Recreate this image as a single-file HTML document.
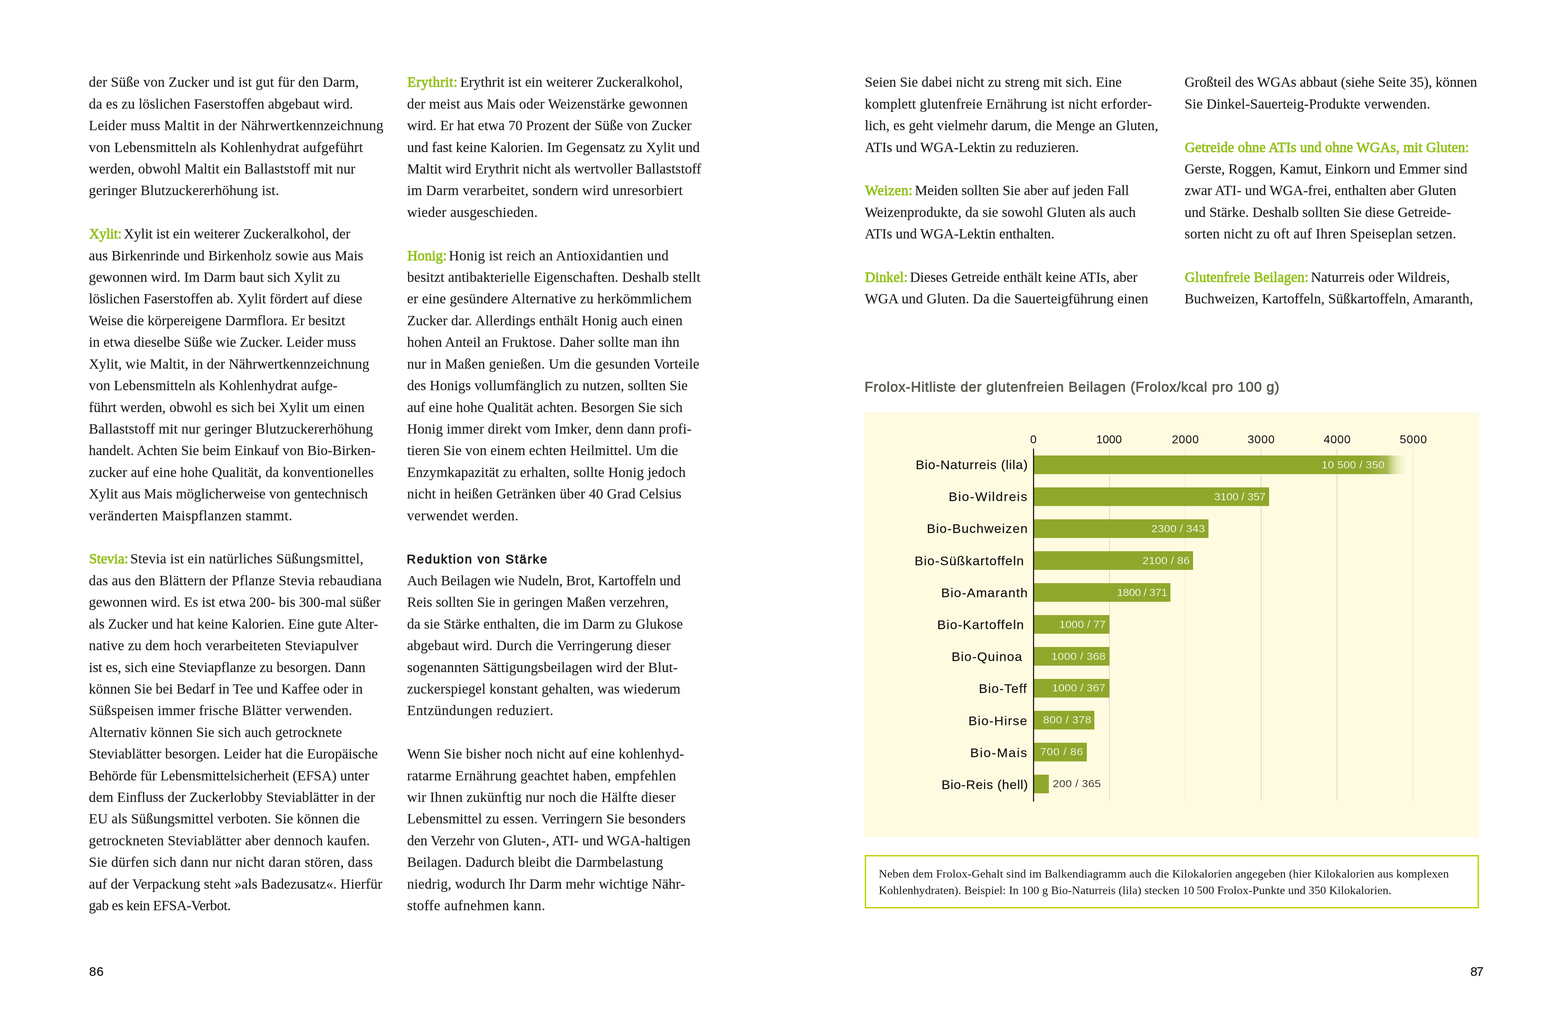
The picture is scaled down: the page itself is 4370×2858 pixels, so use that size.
<!DOCTYPE html>
<html lang="de"><head><meta charset="utf-8"><title>Seite 86–87</title>
<style>
html,body{margin:0;padding:0;background:#fff;width:4370px;height:2858px}
main,section,figure,figcaption,aside,footer,p,h2,.col,.chart,.axis,.row{margin:0;padding:0;border:0;position:static;display:block;height:0}
b,h2{font-weight:normal}
i{font-style:normal;display:block}
body{position:relative;overflow:hidden;color:#1d1d1b;font-family:"Liberation Serif", "DejaVu Serif", serif}
.x{position:absolute;white-space:pre;line-height:60px;height:60px;margin:0;transform-origin:0 50%}
.t{font-size:39.5px;-webkit-text-stroke:0.2px #1d1d1b}
.g{color:#95c11f;-webkit-text-stroke:1.5px #95c11f}
.h{font-family:"Liberation Sans", "DejaVu Sans", sans-serif;color:#1d1d1b;-webkit-text-stroke:1.4px #1d1d1b}
.ct{font-family:"Liberation Sans", "DejaVu Sans", sans-serif;color:#585d50;-webkit-text-stroke:1.25px #585d50}
.pn{font-family:"Liberation Sans", "DejaVu Sans", sans-serif;color:#111;-webkit-text-stroke:0.3px #111}
.n{color:#1a1a1a}
.ax{font-family:"Liberation Sans", "DejaVu Sans", sans-serif;color:#111}
.bl{font-family:"Liberation Sans", "DejaVu Sans", sans-serif;color:#111;-webkit-text-stroke:0.25px #111}
.bv{font-family:"Liberation Sans", "DejaVu Sans", sans-serif;color:#fff;-webkit-text-stroke:0.35px #8fa82c}
.bv.dk{color:#1d1d1b;-webkit-text-stroke:0.3px #fffbe1}
.bg{position:absolute;background:#fffbe1}
.gl{position:absolute;width:1.5px;background:#d6d5ca}
.bar{position:absolute;background:#8fa82c}
.b0{background:linear-gradient(to right,#8fa82c 0,#8fa82c 933px,rgba(143,168,44,.8) 984px,rgba(143,168,44,.6) 992px,rgba(143,168,44,.42) 1000px,rgba(143,168,44,.25) 1010px,rgba(143,168,44,.13) 1021px,rgba(143,168,44,.05) 1031px,rgba(143,168,44,0) 1040px)}
.axl{position:absolute;background:#111}
.nb{position:absolute;box-sizing:border-box;border:4.4px solid #c3d30f;background:#fff}
</style></head><body>
<main>
<section class="page" aria-label="Seite 86">
<div class="col">
<p><span class="x t" style="left:247.6px;top:199.3px;letter-spacing:0.30px">der Süße von Zucker und ist gut für den Darm,</span><span class="x t" style="left:247.6px;top:259.7px;letter-spacing:0.17px">da es zu löslichen Faserstoffen abgebaut wird.</span><span class="x t" style="left:247.6px;top:320.1px;letter-spacing:0.46px">Leider muss Maltit in der Nährwertkennzeichnung</span><span class="x t" style="left:247.6px;top:380.5px;letter-spacing:0.31px">von Lebensmitteln als Kohlenhydrat aufgeführt</span><span class="x t" style="left:247.6px;top:440.9px;letter-spacing:0.16px">werden, obwohl Maltit ein Ballaststoff mit nur</span><span class="x t" style="left:247.6px;top:501.3px;letter-spacing:0.29px">geringer Blutzuckererhöhung ist.</span></p>
<p><b class="x t g" style="left:248.5px;top:622.2px;letter-spacing:-0.30px">Xylit:</b><span class="x t" style="left:345.0px;top:622.2px;letter-spacing:-0.12px">Xylit ist ein weiterer Zuckeralkohol, der</span><span class="x t" style="left:247.6px;top:682.6px;letter-spacing:0.13px">aus Birkenrinde und Birkenholz sowie aus Mais</span><span class="x t" style="left:247.6px;top:743.0px;letter-spacing:0.07px">gewonnen wird. Im Darm baut sich Xylit zu</span><span class="x t" style="left:247.6px;top:803.4px;letter-spacing:-0.04px">löslichen Faserstoffen ab. Xylit fördert auf diese</span><span class="x t" style="left:247.6px;top:863.8px;letter-spacing:0.01px">Weise die körpereigene Darmflora. Er besitzt</span><span class="x t" style="left:247.6px;top:924.3px;letter-spacing:0.02px">in etwa dieselbe Süße wie Zucker. Leider muss</span><span class="x t" style="left:247.6px;top:984.7px;letter-spacing:0.18px">Xylit, wie Maltit, in der Nährwertkennzeichnung</span><span class="x t" style="left:247.6px;top:1045.1px;letter-spacing:0.16px">von Lebensmitteln als Kohlenhydrat aufge-</span><span class="x t" style="left:247.6px;top:1105.5px;letter-spacing:0.13px">führt werden, obwohl es sich bei Xylit um einen</span><span class="x t" style="left:247.6px;top:1165.9px;letter-spacing:0.24px">Ballaststoff mit nur geringer Blutzuckererhöhung</span><span class="x t" style="left:247.6px;top:1226.3px;letter-spacing:-0.06px">handelt. Achten Sie beim Einkauf von Bio-Birken-</span><span class="x t" style="left:247.6px;top:1286.8px;letter-spacing:0.24px">zucker auf eine hohe Qualität, da konventionelles</span><span class="x t" style="left:247.6px;top:1347.2px">Xylit aus Mais möglicherweise von gentechnisch</span><span class="x t" style="left:247.6px;top:1407.6px;letter-spacing:0.63px">veränderten Maispflanzen stammt.</span></p>
<p><b class="x t g" style="left:248.5px;top:1528.4px;letter-spacing:-0.12px">Stevia:</b><span class="x t" style="left:362.9px;top:1528.4px;letter-spacing:0.37px">Stevia ist ein natürliches Süßungsmittel,</span><span class="x t" style="left:247.6px;top:1588.8px;letter-spacing:0.34px">das aus den Blättern der Pflanze Stevia rebaudiana</span><span class="x t" style="left:247.6px;top:1649.3px;letter-spacing:0.06px">gewonnen wird. Es ist etwa 200- bis 300-mal süßer</span><span class="x t" style="left:247.6px;top:1709.7px;letter-spacing:-0.02px">als Zucker und hat keine Kalorien. Eine gute Alter-</span><span class="x t" style="left:247.6px;top:1770.1px;letter-spacing:0.38px">native zu dem hoch verarbeiteten Steviapulver</span><span class="x t" style="left:247.6px;top:1830.5px;letter-spacing:0.06px">ist es, sich eine Steviapflanze zu besorgen. Dann</span><span class="x t" style="left:247.6px;top:1890.9px;letter-spacing:-0.03px">können Sie bei Bedarf in Tee und Kaffee oder in</span><span class="x t" style="left:247.6px;top:1951.3px;letter-spacing:0.37px">Süßspeisen immer frische Blätter verwenden.</span><span class="x t" style="left:247.6px;top:2011.7px;letter-spacing:0.16px">Alternativ können Sie sich auch getrocknete</span><span class="x t" style="left:247.6px;top:2072.2px;letter-spacing:0.20px">Steviablätter besorgen. Leider hat die Europäische</span><span class="x t" style="left:247.6px;top:2132.6px;letter-spacing:-0.04px">Behörde für Lebensmittelsicherheit (EFSA) unter</span><span class="x t" style="left:247.6px;top:2193.0px;letter-spacing:0.17px">dem Einfluss der Zuckerlobby Steviablätter in der</span><span class="x t" style="left:247.6px;top:2253.4px;letter-spacing:0.19px">EU als Süßungsmittel verboten. Sie können die</span><span class="x t" style="left:247.6px;top:2313.8px;letter-spacing:0.46px">getrockneten Steviablätter aber dennoch kaufen.</span><span class="x t" style="left:247.6px;top:2374.2px;letter-spacing:0.51px">Sie dürfen sich dann nur nicht daran stören, dass</span><span class="x t" style="left:247.6px;top:2434.7px;letter-spacing:0.12px">auf der Verpackung steht »als Badezusatz«. Hierfür</span><span class="x t" style="left:247.6px;top:2495.1px;letter-spacing:-0.73px">gab es kein EFSA-Verbot.</span></p>
</div>
<div class="col">
<p><b class="x t g" style="left:1135.3px;top:199.3px;letter-spacing:0.73px">Erythrit:</b><span class="x t" style="left:1282.6px;top:199.3px;letter-spacing:0.07px">Erythrit ist ein weiterer Zuckeralkohol,</span><span class="x t" style="left:1134.4px;top:259.7px;letter-spacing:0.27px">der meist aus Mais oder Weizenstärke gewonnen</span><span class="x t" style="left:1134.4px;top:320.1px;letter-spacing:0.02px">wird. Er hat etwa 70 Prozent der Süße von Zucker</span><span class="x t" style="left:1134.4px;top:380.5px;letter-spacing:0.02px">und fast keine Kalorien. Im Gegensatz zu Xylit und</span><span class="x t" style="left:1134.4px;top:440.9px;letter-spacing:0.04px">Maltit wird Erythrit nicht als wertvoller Ballaststoff</span><span class="x t" style="left:1134.4px;top:501.3px;letter-spacing:0.45px">im Darm verarbeitet, sondern wird unresorbiert</span><span class="x t" style="left:1134.4px;top:561.8px;letter-spacing:0.43px">wieder ausgeschieden.</span></p>
<p><b class="x t g" style="left:1135.3px;top:682.6px;letter-spacing:0.05px">Honig:</b><span class="x t" style="left:1251.0px;top:682.6px;letter-spacing:0.46px">Honig ist reich an Antioxidantien und</span><span class="x t" style="left:1134.4px;top:743.0px;letter-spacing:0.18px">besitzt antibakterielle Eigenschaften. Deshalb stellt</span><span class="x t" style="left:1134.4px;top:803.4px;letter-spacing:0.35px">er eine gesündere Alternative zu herkömmlichem</span><span class="x t" style="left:1134.4px;top:863.8px;letter-spacing:0.17px">Zucker dar. Allerdings enthält Honig auch einen</span><span class="x t" style="left:1134.4px;top:924.3px;letter-spacing:0.25px">hohen Anteil an Fruktose. Daher sollte man ihn</span><span class="x t" style="left:1134.4px;top:984.7px;letter-spacing:0.43px">nur in Maßen genießen. Um die gesunden Vorteile</span><span class="x t" style="left:1134.4px;top:1045.1px;letter-spacing:0.14px">des Honigs vollumfänglich zu nutzen, sollten Sie</span><span class="x t" style="left:1134.4px;top:1105.5px;letter-spacing:0.07px">auf eine hohe Qualität achten. Besorgen Sie sich</span><span class="x t" style="left:1134.4px;top:1165.9px;letter-spacing:0.30px">Honig immer direkt vom Imker, denn dann profi-</span><span class="x t" style="left:1134.4px;top:1226.3px;letter-spacing:0.21px">tieren Sie von einem echten Heilmittel. Um die</span><span class="x t" style="left:1134.4px;top:1286.8px;letter-spacing:0.19px">Enzymkapazität zu erhalten, sollte Honig jedoch</span><span class="x t" style="left:1134.4px;top:1347.2px;letter-spacing:0.25px">nicht in heißen Getränken über 40 Grad Celsius</span><span class="x t" style="left:1134.4px;top:1407.6px;letter-spacing:0.62px">verwendet werden.</span></p>
<h2 class="x h" style="left:1133.5px;top:1529.1px;font-size:35px;letter-spacing:2.98px">Reduktion von Stärke</h2>
<p><span class="x t" style="left:1134.4px;top:1588.8px;letter-spacing:-0.20px">Auch Beilagen wie Nudeln, Brot, Kartoffeln und</span><span class="x t" style="left:1134.4px;top:1649.3px;letter-spacing:-0.01px">Reis sollten Sie in geringen Maßen verzehren,</span><span class="x t" style="left:1134.4px;top:1709.7px;letter-spacing:0.09px">da sie Stärke enthalten, die im Darm zu Glukose</span><span class="x t" style="left:1134.4px;top:1770.1px;letter-spacing:0.27px">abgebaut wird. Durch die Verringerung dieser</span><span class="x t" style="left:1134.4px;top:1830.5px;letter-spacing:0.29px">sogenannten Sättigungsbeilagen wird der Blut-</span><span class="x t" style="left:1134.4px;top:1890.9px;letter-spacing:0.19px">zuckerspiegel konstant gehalten, was wiederum</span><span class="x t" style="left:1134.4px;top:1951.3px;letter-spacing:0.89px">Entzündungen reduziert.</span></p>
<p><span class="x t" style="left:1134.4px;top:2072.2px;letter-spacing:0.29px">Wenn Sie bisher noch nicht auf eine kohlenhyd-</span><span class="x t" style="left:1134.4px;top:2132.6px;letter-spacing:0.49px">ratarme Ernährung geachtet haben, empfehlen</span><span class="x t" style="left:1134.4px;top:2193.0px;letter-spacing:0.32px">wir Ihnen zukünftig nur noch die Hälfte dieser</span><span class="x t" style="left:1134.4px;top:2253.4px;letter-spacing:0.25px">Lebensmittel zu essen. Verringern Sie besonders</span><span class="x t" style="left:1134.4px;top:2313.8px;letter-spacing:-0.08px">den Verzehr von Gluten-, ATI- und WGA-haltigen</span><span class="x t" style="left:1134.4px;top:2374.2px;letter-spacing:0.20px">Beilagen. Dadurch bleibt die Darmbelastung</span><span class="x t" style="left:1134.4px;top:2434.7px;letter-spacing:0.25px">niedrig, wodurch Ihr Darm mehr wichtige Nähr-</span><span class="x t" style="left:1134.4px;top:2495.1px;letter-spacing:0.66px">stoffe aufnehmen kann.</span></p>
</div>
<footer><div class="x pn" style="left:248.6px;top:2679.3px;font-size:35px;letter-spacing:1.26px">86</div></footer>
</section>
<section class="page" aria-label="Seite 87">
<div class="col">
<p><span class="x t" style="left:2409.9px;top:199.3px;letter-spacing:0.05px">Seien Sie dabei nicht zu streng mit sich. Eine</span><span class="x t" style="left:2409.9px;top:259.7px;letter-spacing:0.35px">komplett glutenfreie Ernährung ist nicht erforder-</span><span class="x t" style="left:2409.9px;top:320.1px;letter-spacing:0.11px">lich, es geht vielmehr darum, die Menge an Gluten,</span><span class="x t" style="left:2409.9px;top:380.5px;letter-spacing:-0.06px">ATIs und WGA-Lektin zu reduzieren.</span></p>
<p><b class="x t g" style="left:2410.8px;top:501.3px;letter-spacing:0.65px">Weizen:</b><span class="x t" style="left:2549.8px;top:501.3px;letter-spacing:-0.11px">Meiden sollten Sie aber auf jeden Fall</span><span class="x t" style="left:2409.9px;top:561.8px;letter-spacing:0.17px">Weizenprodukte, da sie sowohl Gluten als auch</span><span class="x t" style="left:2409.9px;top:622.2px;letter-spacing:-0.04px">ATIs und WGA-Lektin enthalten.</span></p>
<p><b class="x t g" style="left:2410.8px;top:743.0px;letter-spacing:0.10px">Dinkel:</b><span class="x t" style="left:2536.0px;top:743.0px;letter-spacing:-0.05px">Dieses Getreide enthält keine ATIs, aber</span><span class="x t" style="left:2409.9px;top:803.4px;letter-spacing:0.19px">WGA und Gluten. Da die Sauerteigführung einen</span></p>
</div>
<div class="col">
<p><span class="x t" style="left:3301.2px;top:199.3px;letter-spacing:-0.09px">Großteil des WGAs abbaut (siehe Seite 35), können</span><span class="x t" style="left:3301.2px;top:259.7px;letter-spacing:0.15px">Sie Dinkel-Sauerteig-Produkte verwenden.</span></p>
<p><b class="x t g" style="left:3302.1px;top:380.5px;letter-spacing:0.22px">Getreide ohne ATIs und ohne WGAs, mit Gluten:</b><span class="x t" style="left:3301.2px;top:440.9px;letter-spacing:-0.06px">Gerste, Roggen, Kamut, Einkorn und Emmer sind</span><span class="x t" style="left:3301.2px;top:501.3px;letter-spacing:-0.04px">zwar ATI- und WGA-frei, enthalten aber Gluten</span><span class="x t" style="left:3301.2px;top:561.8px;letter-spacing:-0.04px">und Stärke. Deshalb sollten Sie diese Getreide-</span><span class="x t" style="left:3301.2px;top:622.2px;letter-spacing:0.38px">sorten nicht zu oft auf Ihren Speiseplan setzen.</span></p>
<p><b class="x t g" style="left:3302.1px;top:743.0px;letter-spacing:0.19px">Glutenfreie Beilagen:</b><span class="x t" style="left:3653.4px;top:743.0px;letter-spacing:0.30px">Naturreis oder Wildreis,</span><span class="x t" style="left:3301.2px;top:803.4px;letter-spacing:0.08px">Buchweizen, Kartoffeln, Süßkartoffeln, Amaranth,</span></p>
</div>
<figure>
<figcaption><div class="x ct" style="left:2409.6px;top:1048.9px;font-size:38.5px;letter-spacing:1.34px">Frolox-Hitliste der glutenfreien Beilagen (Frolox/kcal pro 100 g)</div></figcaption>
<div class="chart">
<div class="bg" style="left:2409.3px;top:1149.3px;width:1712.5px;height:1184.3px"></div>
<div class="axis"><i class="gl" style="left:3091.3px;top:1252px;height:981.3px"></i><i class="gl" style="left:3302.6px;top:1252px;height:981.3px"></i><i class="gl" style="left:3514.0px;top:1252px;height:981.3px"></i><i class="gl" style="left:3725.3px;top:1252px;height:981.3px"></i><i class="gl" style="left:3936.7px;top:1252px;height:981.3px"></i><span class="x ax" style="left:2871.4px;top:1195.0px;font-size:30.5px;transform:scaleX(1.06)">0</span><span class="x ax" style="left:3054.7px;top:1195.0px;font-size:30.5px;letter-spacing:-0.07px;transform:scaleX(1.06)">1000</span><span class="x ax" style="left:3265.6px;top:1195.0px;font-size:30.5px;letter-spacing:0.93px;transform:scaleX(1.06)">2000</span><span class="x ax" style="left:3477.4px;top:1195.0px;font-size:30.5px;letter-spacing:1.03px;transform:scaleX(1.06)">3000</span><span class="x ax" style="left:3689.0px;top:1195.0px;font-size:30.5px;letter-spacing:0.97px;transform:scaleX(1.06)">4000</span><span class="x ax" style="left:3900.9px;top:1195.0px;font-size:30.5px;letter-spacing:1.19px;transform:scaleX(1.06)">5000</span></div>
<div class="row"><span class="x bl" style="left:2551.6px;top:1266.0px;font-size:35px;letter-spacing:1.21px;transform:scaleX(1.03)">Bio-Naturreis (lila)</span><i class="bar b0" style="left:2880.7px;top:1270.0px;width:1040.3px;height:52.1px"></i><span class="x bv" style="left:3682.9px;top:1266.0px;font-size:29.5px;letter-spacing:0.16px;transform:scaleX(1.06)">10 500 / 350</span></div>
<div class="row"><span class="x bl" style="left:2643.8px;top:1355.2px;font-size:35px;letter-spacing:2.34px;transform:scaleX(1.03)">Bio-Wildreis</span><i class="bar" style="left:2880.7px;top:1359.0px;width:656.4px;height:52.1px"></i><span class="x bv" style="left:3383.9px;top:1354.9px;font-size:29.5px;letter-spacing:-0.45px;transform:scaleX(1.06)">3100 / 357</span></div>
<div class="row"><span class="x bl" style="left:2582.5px;top:1444.4px;font-size:35px;letter-spacing:1.66px;transform:scaleX(1.03)">Bio-Buchweizen</span><i class="bar" style="left:2880.7px;top:1448.0px;width:487.0px;height:52.1px"></i><span class="x bv" style="left:3209.1px;top:1443.8px;font-size:29.5px;letter-spacing:0.13px;transform:scaleX(1.06)">2300 / 343</span></div>
<div class="row"><span class="x bl" style="left:2548.8px;top:1533.6px;font-size:35px;letter-spacing:1.60px;transform:scaleX(1.03)">Bio-Süßkartoffeln</span><i class="bar" style="left:2880.7px;top:1537.0px;width:444.7px;height:52.1px"></i><span class="x bv" style="left:3183.7px;top:1532.7px;font-size:29.5px;letter-spacing:0.14px;transform:scaleX(1.06)">2100 / 86</span></div>
<div class="row"><span class="x bl" style="left:2623.4px;top:1622.8px;font-size:35px;letter-spacing:1.80px;transform:scaleX(1.03)">Bio-Amaranth</span><i class="bar" style="left:2880.7px;top:1626.0px;width:381.1px;height:52.1px"></i><span class="x bv" style="left:3112.5px;top:1621.7px;font-size:29.5px;letter-spacing:-0.76px;transform:scaleX(1.06)">1800 / 371</span></div>
<div class="row"><span class="x bl" style="left:2611.8px;top:1712.0px;font-size:35px;letter-spacing:1.76px;transform:scaleX(1.03)">Bio-Kartoffeln</span><i class="bar" style="left:2880.7px;top:1715.0px;width:211.7px;height:52.1px"></i><span class="x bv" style="left:2952.0px;top:1710.6px;font-size:29.5px;letter-spacing:-0.10px;transform:scaleX(1.06)">1000 / 77</span></div>
<div class="row"><span class="x bl" style="left:2651.6px;top:1801.2px;font-size:35px;letter-spacing:1.73px;transform:scaleX(1.03)">Bio-Quinoa</span><i class="bar" style="left:2880.7px;top:1804.0px;width:211.7px;height:52.1px"></i><span class="x bv" style="left:2930.4px;top:1799.5px;font-size:29.5px;letter-spacing:0.36px;transform:scaleX(1.06)">1000 / 368</span></div>
<div class="row"><span class="x bl" style="left:2727.8px;top:1890.4px;font-size:35px;letter-spacing:1.64px;transform:scaleX(1.03)">Bio-Teff</span><i class="bar" style="left:2880.7px;top:1893.0px;width:211.7px;height:52.1px"></i><span class="x bv" style="left:2932.3px;top:1888.4px;font-size:29.5px;letter-spacing:0.09px;transform:scaleX(1.06)">1000 / 367</span></div>
<div class="row"><span class="x bl" style="left:2698.6px;top:1979.7px;font-size:35px;letter-spacing:1.86px;transform:scaleX(1.03)">Bio-Hirse</span><i class="bar" style="left:2880.7px;top:1982.0px;width:169.4px;height:52.1px"></i><span class="x bv" style="left:2906.6px;top:1977.3px;font-size:29.5px;letter-spacing:0.47px;transform:scaleX(1.06)">800 / 378</span></div>
<div class="row"><span class="x bl" style="left:2704.3px;top:2068.9px;font-size:35px;letter-spacing:2.51px;transform:scaleX(1.03)">Bio-Mais</span><i class="bar" style="left:2880.7px;top:2071.0px;width:148.2px;height:52.1px"></i><span class="x bv" style="left:2899.1px;top:2066.3px;font-size:29.5px;letter-spacing:0.87px;transform:scaleX(1.06)">700 / 86</span></div>
<div class="row"><span class="x bl" style="left:2624.0px;top:2158.1px;font-size:35px;letter-spacing:1.00px;transform:scaleX(1.03)">Bio-Reis (hell)</span><i class="bar" style="left:2880.7px;top:2160.0px;width:42.3px;height:52.1px"></i><span class="x bv dk" style="left:2934.3px;top:2155.2px;font-size:29.5px;letter-spacing:0.43px;transform:scaleX(1.06)">200 / 365</span></div>
<i class="axl" style="left:2878.7px;top:1251.3px;width:3.6px;height:983.7px"></i>
</div>
</figure>
<aside><div class="nb" style="left:2409.6px;top:2384.2px;width:1712.2px;height:149.1px"></div><p><span class="x n" style="left:2449.0px;top:2405.7px;font-size:32.5px;letter-spacing:0.26px">Neben dem Frolox-Gehalt sind im Balkendiagramm auch die Kilokalorien angegeben (hier Kilokalorien aus komplexen</span><span class="x n" style="left:2449.0px;top:2451.5px;font-size:32.5px;letter-spacing:0.10px">Kohlenhydraten). Beispiel: In 100 g Bio-Naturreis (lila) stecken 10 500 Frolox-Punkte und 350 Kilokalorien.</span></p></aside>
<footer><div class="x pn" style="left:4098.0px;top:2679.1px;font-size:35px;letter-spacing:-2.34px">87</div></footer>
</section>
</main></body></html>
